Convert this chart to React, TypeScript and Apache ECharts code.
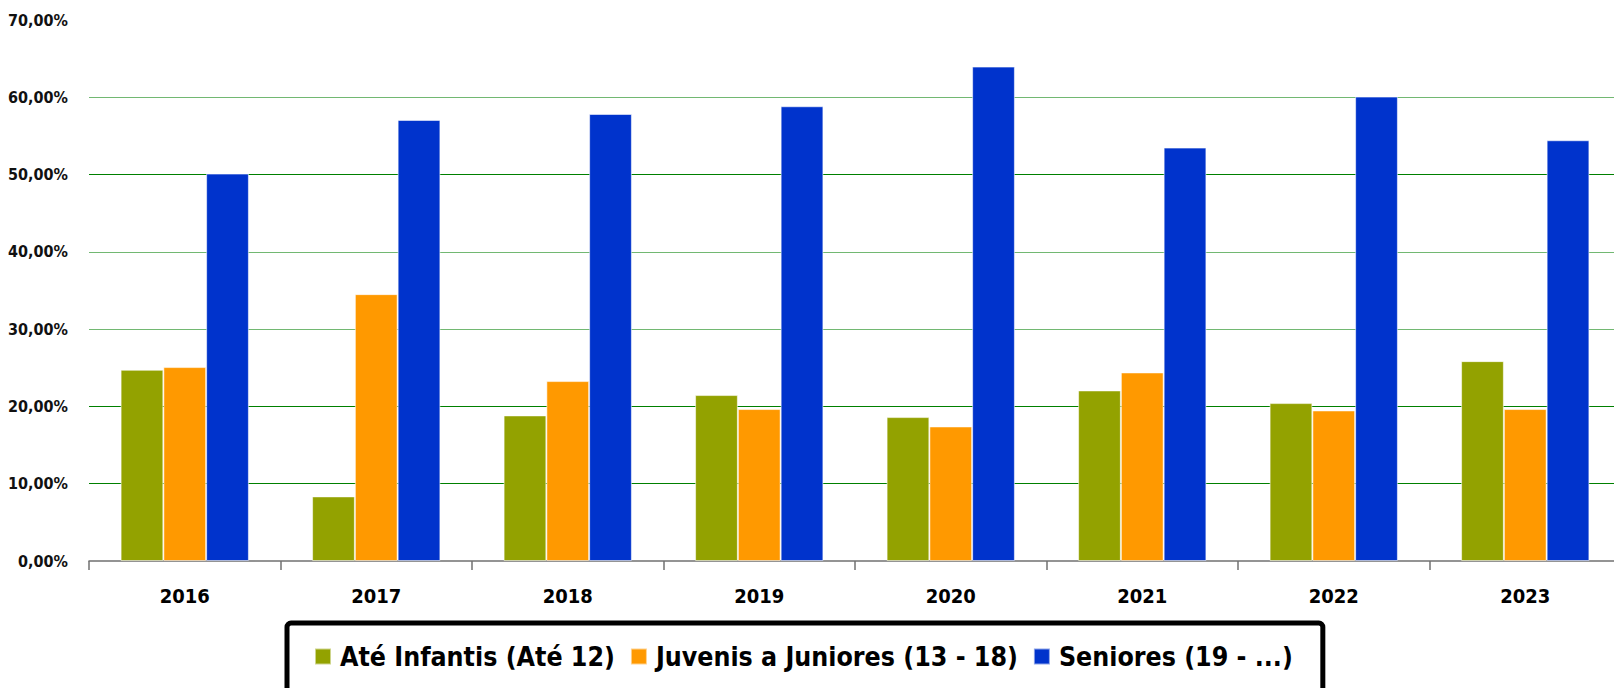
import React, { useEffect, useRef } from "react";
import * as echarts from "echarts";

const categories = ["2016", "2017", "2018", "2019", "2020", "2021", "2022", "2023"];
const seriesNames = ["Até Infantis (Até 12)", "Juvenis a Juniores (13 - 18)", "Seniores (19 - ...)"];
const ateInfantis = [24.74, 8.36, 18.84, 21.47, 18.62, 22.07, 20.43, 25.86];
const juvenis = [25.09, 34.53, 23.28, 19.66, 17.41, 24.4, 19.48, 19.66];
const seniores = [50.13, 57.07, 57.84, 58.84, 63.97, 53.49, 60.09, 54.44];
const yMin = 0;
const yMax = 70;
const yStep = 10;

const colors = ["#93a200", "#ff9900", "#0033cc"];
const FONT = "'DejaVu Sans Condensed', 'DejaVu Sans', sans-serif";

export default function App() {
  const ref = useRef<HTMLDivElement>(null);
  useEffect(() => {
    if (!ref.current) return;
    const chart = echarts.init(ref.current, undefined, { renderer: "svg" });
    const dark = "#008000";
    const light = "#72b872";
    const seriesData = [ateInfantis, juvenis, seniores];
    chart.setOption({
      animation: false,
      backgroundColor: "#ffffff",
      grid: {
        left: 89,
        right: -7,
        top: 20,
        bottom: 127,
        containLabel: false,
        outerBoundsMode: "none",
      },
      legend: {
        data: seriesNames,
        left: 287,
        top: 623,
        orient: "horizontal",
        icon: "rect",
        itemWidth: 16,
        itemHeight: 16,
        itemGap: 15,
        padding: [20, 30, 22, 27],
        borderColor: "#000000",
        borderWidth: 5,
        borderRadius: 4,
        backgroundColor: "#ffffff",
        textStyle: {
          fontFamily: FONT,
          fontWeight: "bold",
          fontSize: 26.5,
          color: "#000000",
          padding: [0, 0, 0, 4],
        },
      },
      xAxis: {
        type: "category",
        data: categories,
        boundaryGap: true,
        axisLine: { show: true, lineStyle: { color: "#707070", width: 1.5 } },
        axisTick: { show: true, length: 9, lineStyle: { color: "#707070", width: 1.5 } },
        axisLabel: {
          fontFamily: FONT,
          fontWeight: "bold",
          fontSize: 20,
          color: "#000000",
          margin: 25,
        },
        splitLine: { show: false },
      },
      yAxis: {
        type: "value",
        min: yMin,
        max: yMax,
        interval: yStep,
        axisLine: { show: false },
        axisTick: { show: false },
        axisLabel: {
          fontFamily: FONT,
          fontWeight: "bold",
          fontSize: 16,
          color: "#111111",
          margin: 21,
          formatter: (v: number) => v.toFixed(2).replace(".", ",") + "%",
        },
        splitLine: {
          show: true,
          lineStyle: {
            width: 1,
            color: ["rgba(0,0,0,0)", dark, dark, light, light, dark, light, "rgba(0,0,0,0)"],
          },
        },
      },
      series: seriesNames.map((name, i) => ({
        name,
        type: "bar",
        data: seriesData[i],
        barGap: "0%",
        barCategoryGap: "33%",
        itemStyle: {
          color: colors[i],
          borderColor: "rgba(255,255,255,0.55)",
          borderWidth: 1,
        },
      })),
    });
    return () => chart.dispose();
  }, []);
  return (
    <div
      ref={ref}
      style={{ position: "fixed", left: 0, top: 0, width: 1614, height: 688, background: "#fff" }}
    />
  );
}
